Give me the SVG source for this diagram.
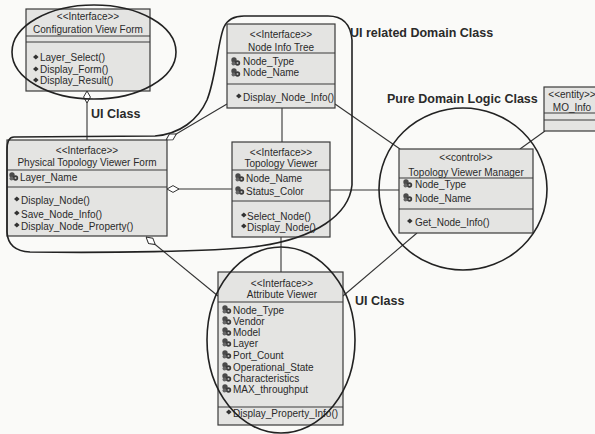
<svg xmlns="http://www.w3.org/2000/svg" xmlns:xlink="http://www.w3.org/1999/xlink" width="595" height="434" viewBox="0 0 595 434">
<style>
.box{fill:#e4e4e2;stroke:#3a3a3a;stroke-width:1.2}
.div{stroke:#3a3a3a;stroke-width:1.2}
.t{font-family:"Liberation Sans",Arial,sans-serif;font-size:10px;fill:#2a2a2a}
.c{text-anchor:middle}
.lbl{font-family:"Liberation Sans",Arial,sans-serif;font-size:12.5px;font-weight:bold;fill:#2a2a2a}
.ln{stroke:#333;stroke-width:1.1;fill:none}
.grp{fill:none;stroke:#222;stroke-width:1.6}
</style>
<defs>
<marker id="dia" viewBox="0 0 12 8" markerUnits="userSpaceOnUse" markerWidth="12" markerHeight="8" refX="0" refY="4" orient="auto">
<path d="M0,4 L6,0.6 L12,4 L6,7.4 Z" fill="#fff" stroke="#333" stroke-width="1"/>
</marker>
<g id="ai"><circle cx="3" cy="-5" r="2.7" fill="#4a4a4a"/><circle cx="6.5" cy="-2" r="2.7" fill="#3a3a3a"/><circle cx="2.5" cy="-1.5" r="2" fill="#666"/><circle cx="6.5" cy="-2" r="1" fill="#bbb"/></g>
<g id="oi"><path d="M0,-4 L2.8,-6.6 L5.6,-4 L2.8,-1.4 Z" fill="#333"/></g>
</defs>
<rect width="595" height="434" fill="#fafaf8"/>

<g id="connectors">
<line class="ln" x1="87" y1="91" x2="87" y2="140" marker-start="url(#dia)"/>
<line class="ln" x1="166" y1="140" x2="227" y2="104" marker-start="url(#dia)"/>
<line class="ln" x1="167" y1="189" x2="232" y2="189" marker-start="url(#dia)"/>
<line class="ln" x1="146" y1="237" x2="218" y2="296" marker-start="url(#dia)"/>
<line class="ln" x1="282" y1="108" x2="282" y2="142"/>
<line class="ln" x1="281" y1="237" x2="281" y2="272"/>
<line class="ln" x1="335" y1="104" x2="400" y2="149"/>
<line class="ln" x1="330" y1="190" x2="399" y2="190"/>
<line class="ln" x1="417" y1="233" x2="343" y2="296"/>
<line class="ln" x1="545" y1="131" x2="520" y2="149"/>
</g>

<g id="configViewForm">
<rect class="box" x="26" y="9" width="124" height="82"/>
<line class="div" x1="26" y1="36" x2="150" y2="36"/>
<line class="div" x1="26" y1="42" x2="150" y2="42"/>
<text class="t c" x="88" y="19.5">&lt;&lt;Interface&gt;&gt;</text>
<text class="t c" x="88" y="32.5">Configuration View Form</text>
<use xlink:href="#oi" x="33" y="61"/><text class="t" x="40" y="61">Layer_Select()</text>
<use xlink:href="#oi" x="33" y="73"/><text class="t" x="40" y="73">Display_Form()</text>
<use xlink:href="#oi" x="33" y="84"/><text class="t" x="40" y="84">Display_Result()</text>
</g>

<g id="nodeInfoTree">
<rect class="box" x="227" y="24" width="108" height="84"/>
<line class="div" x1="227" y1="53" x2="335" y2="53"/>
<line class="div" x1="227" y1="84" x2="335" y2="84"/>
<text class="t c" x="281" y="37.5">&lt;&lt;Interface&gt;&gt;</text>
<text class="t c" x="281" y="50.5">Node Info Tree</text>
<use xlink:href="#ai" x="231" y="65"/><text class="t" x="243" y="65">Node_Type</text>
<use xlink:href="#ai" x="231" y="76"/><text class="t" x="243" y="76">Node_Name</text>
<use xlink:href="#oi" x="236" y="100"/><text class="t" x="243" y="100.5">Display_Node_Info()</text>
</g>

<g id="physicalTopologyViewerForm">
<rect class="box" x="7" y="140" width="160" height="96"/>
<line class="div" x1="7" y1="170" x2="167" y2="170"/>
<line class="div" x1="7" y1="187" x2="167" y2="187"/>
<text class="t c" x="87" y="153.5">&lt;&lt;Interface&gt;&gt;</text>
<text class="t c" x="87" y="165.5">Physical Topology Viewer Form</text>
<use xlink:href="#ai" x="9" y="180"/><text class="t" x="20" y="180.5">Layer_Name</text>
<use xlink:href="#oi" x="14" y="203"/><text class="t" x="21" y="203.5">Display_Node()</text>
<use xlink:href="#oi" x="14" y="217"/><text class="t" x="21" y="217.5">Save_Node_Info()</text>
<use xlink:href="#oi" x="14" y="229"/><text class="t" x="21" y="229.5">Display_Node_Property()</text>
</g>

<g id="topologyViewer">
<rect class="box" x="232" y="142" width="98" height="95"/>
<line class="div" x1="232" y1="170" x2="330" y2="170"/>
<line class="div" x1="232" y1="201" x2="330" y2="201"/>
<text class="t c" x="281" y="155.5">&lt;&lt;Interface&gt;&gt;</text>
<text class="t c" x="281" y="166.5">Topology Viewer</text>
<use xlink:href="#ai" x="235" y="181"/><text class="t" x="246" y="181.5">Node_Name</text>
<use xlink:href="#ai" x="235" y="194"/><text class="t" x="246" y="194.5">Status_Color</text>
<use xlink:href="#oi" x="241" y="219"/><text class="t" x="247" y="219.5">Select_Node()</text>
<use xlink:href="#oi" x="241" y="230"/><text class="t" x="247" y="230.5">Display_Node()</text>
</g>

<g id="topologyViewerManager">
<rect class="box" x="399" y="149" width="134" height="84"/>
<line class="div" x1="399" y1="178" x2="533" y2="178"/>
<line class="div" x1="399" y1="209" x2="533" y2="209"/>
<text class="t c" x="466" y="160.5">&lt;&lt;control&gt;&gt;</text>
<text class="t c" x="466" y="175.5">Topology Viewer Manager</text>
<use xlink:href="#ai" x="403" y="187"/><text class="t" x="415" y="187.5">Node_Type</text>
<use xlink:href="#ai" x="403" y="201"/><text class="t" x="415" y="201.5">Node_Name</text>
<use xlink:href="#oi" x="407" y="225"/><text class="t" x="415" y="225.5">Get_Node_Info()</text>
</g>

<g id="moInfo">
<rect class="box" x="544" y="87" width="60" height="44"/>
<line class="div" x1="544" y1="113" x2="604" y2="113"/>
<line class="div" x1="544" y1="120" x2="604" y2="120"/>
<text class="t c" x="572" y="97.5">&lt;&lt;entity&gt;&gt;</text>
<text class="t c" x="572" y="111">MO_Info</text>
</g>

<g id="attributeViewer">
<rect class="box" x="218" y="272" width="125" height="153"/>
<line class="div" x1="218" y1="302" x2="343" y2="302"/>
<line class="div" x1="218" y1="407" x2="343" y2="407"/>
<text class="t c" x="282" y="286.5">&lt;&lt;Interface&gt;&gt;</text>
<text class="t c" x="282" y="297.5">Attribute Viewer</text>
<use xlink:href="#ai" x="222" y="313"/><text class="t" x="233" y="313.5">Node_Type</text>
<use xlink:href="#ai" x="222" y="324"/><text class="t" x="233" y="324.5">Vendor</text>
<use xlink:href="#ai" x="222" y="335"/><text class="t" x="233" y="335.5">Model</text>
<use xlink:href="#ai" x="222" y="346"/><text class="t" x="233" y="346.5">Layer</text>
<use xlink:href="#ai" x="222" y="358"/><text class="t" x="233" y="358.5">Port_Count</text>
<use xlink:href="#ai" x="222" y="370"/><text class="t" x="233" y="370.5">Operational_State</text>
<use xlink:href="#ai" x="222" y="381"/><text class="t" x="233" y="381.5">Characteristics</text>
<use xlink:href="#ai" x="222" y="392"/><text class="t" x="233" y="392.5">MAX_throughput</text>
<use xlink:href="#oi" x="226" y="416"/><text class="t" x="233" y="416.5">Display_Property_Info()</text>
</g>

<g id="groupings">
<ellipse class="grp" cx="94" cy="52" rx="82" ry="47"/>
<path class="grp" d="M14,137 L155,136 C180,134 198,120 207,100 C216,78 218,40 224,27 Q229,16 244,16 L328,16 Q350,16 352,40 L352,185 C349,215 315,238 260,246 C215,252 100,253 30,252 Q8,251 7,232 L7,150 Q7,137 14,137 Z"/>
<ellipse class="grp" cx="463" cy="189" rx="84" ry="81"/>
<ellipse class="grp" cx="281" cy="340" rx="74" ry="93"/>
</g>

<g id="labels">
<text class="lbl" x="91" y="117.5">UI Class</text>
<text class="lbl" x="350" y="36.5">UI related Domain Class</text>
<text class="lbl" x="387" y="103">Pure Domain Logic Class</text>
<text class="lbl" x="355" y="305">UI Class</text>
</g>
</svg>
